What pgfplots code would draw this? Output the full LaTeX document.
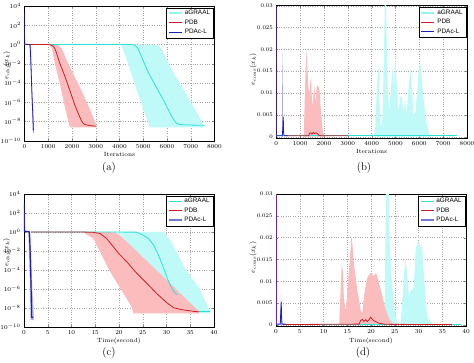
\documentclass[border=0pt]{standalone}
\usepackage{fontspec}
\setsansfont{Liberation Sans}
\usepackage{pgfplots}
\pgfplotsset{compat=1.18}
\definecolor{cyanL}{RGB}{45,225,215}
\definecolor{cyanB}{RGB}{192,250,248}
\definecolor{redL}{RGB}{205,30,40}
\definecolor{redB}{RGB}{250,188,188}
\definecolor{blueL}{RGB}{30,30,190}
\definecolor{blueB}{RGB}{175,175,240}
\definecolor{purpL}{RGB}{105,40,150}
\pgfplotsset{legend image code/.code={\draw[#1] (0pt,0pt) -- (13pt,0pt);}}
\pgfplotsset{
  panel/.style={
    scale only axis, anchor=south west,
    tick align=inside, major tick length=2pt,
    grid=major, major grid style={dotted, black!35, line width=0.35pt},
    tick label style={font=\fontsize{5.6}{6}\selectfont},
    xlabel style={font=\fontsize{6}{7}\selectfont, yshift=3pt},
    ylabel style={font=\fontsize{6.8}{7.5}\selectfont, anchor=center},
    /pgf/number format/1000 sep={},
    scaled ticks=false,
    axis line style={line width=0.4pt},
    legend style={at={(1,1)}, anchor=north east, xshift=-1pt, yshift=-1.5pt,
      font=\sffamily\fontsize{6.4}{7}\selectfont, inner xsep=1.2pt, inner ysep=0.8pt,
      row sep=-0.6pt, draw=black, line width=0.4pt},
    legend cell align=left,
  },
}
\begin{document}
\begin{tikzpicture}
\useasboundingbox (0,0) rectangle (474pt,362pt);

% ---------------- (a) ----------------
\begin{axis}[panel, at={(24.5pt,221.3pt)}, width=190pt, height=134.7pt,
  ymode=log, ymin=1e-10, ymax=1e4, ytick={1e-10,1e-8,1e-6,1e-4,1e-2,1,1e2,1e4},
  xmin=0, xmax=8000, xtick={0,1000,...,8000}, xlabel={Iterations},
  ylabel={$e_{\mathrm{obj}}(x_k)$}, ylabel style={at={(axis description cs:-0.093,0.56)}}]
\addplot[fill=cyanB, draw=none, forget plot] coordinates {
(4080,1) (5500,0.95) (5690,0.63) (5800,0.25) (6250,1.5e-3) (6810,7.9e-6) (7200,1.5e-7) (7580,3.2e-9)
(7580,2.5e-9) (5270,2.5e-9) (4685,3.7e-5) (4300,3e-2) (4080,0.85)};
\addplot[fill=redB, draw=none, forget plot] coordinates {
(1050,1) (1300,1) (1450,0.8) (1560,0.38) (1910,4.6e-3) (2330,3.7e-5) (2750,2e-7) (3030,4e-9)
(3030,2.5e-9) (1910,2.5e-9) (1700,3.2e-7) (1490,8.3e-5) (1280,1.05e-2) (1150,0.4) (1050,0.9)};
\addplot[fill=blueB, draw=none, forget plot] coordinates {
(215,1) (265,1) (330,1e-5) (410,6e-10) (350,6e-10) (300,1e-5)};
\addplot[cyanL, line width=0.8pt, forget plot] coordinates {
(0,1) (4400,1) (4570,0.95) (4680,0.7) (4780,0.38) (4880,0.1) (4990,2.3e-2) (5200,1.4e-3)
(5550,3.7e-5) (5900,1e-6) (6180,4.1e-8) (6290,1.5e-8) (6390,7e-9) (6500,5e-9) (6600,4.7e-9)
(7000,4.2e-9) (7580,4e-9)};
\addplot[redL, line width=0.8pt, forget plot] coordinates {
(0,1) (1000,0.98) (1100,0.9) (1200,0.7) (1280,0.38) (1350,0.12) (1490,1.05e-2) (1700,5e-4)
(1910,1.66e-5) (2120,5e-7) (2330,2.75e-8) (2400,1.2e-8) (2470,6.5e-9) (2540,4.8e-9)
(2610,4.4e-9) (2800,3.6e-9) (3000,3.2e-9)};
\addplot[blueL, line width=0.8pt, forget plot] coordinates {
(0,2e3) (5,1.1) (230,0.95) (250,0.2) (280,2e-3) (310,1e-5) (345,1e-7) (375,1.2e-9)};
\addlegendimage{line width=2pt, cyanB!70!cyanL}\addlegendentry{aGRAAL}
\addlegendimage{line width=0.8pt, redL}\addlegendentry{PDB}
\addlegendimage{line width=0.8pt, blueL}\addlegendentry{PDAc-L}
\end{axis}
\node[font=\fontsize{11}{13}\selectfont] at (109pt,194pt) {(a)};

% ---------------- (b) ----------------
\begin{axis}[panel, at={(276.3pt,224pt)}, width=190.7pt, height=132.3pt,
  ymin=-0.0003, ymax=0.03, ytick={0,0.005,0.01,0.015,0.02,0.025,0.03},
  yticklabels={0,0.005,0.01,0.015,0.02,0.025,0.03},
  xmin=0, xmax=8000, xtick={0,1000,...,8000}, xlabel={Iterations},
  ylabel={$e_{\mathrm{cons}}(x_k)$}, ylabel style={at={(axis description cs:-0.122,0.52)}}]
\addplot[fill=cyanB, draw=none, forget plot] coordinates {
(4080,0) (4150,0.002) (4230,0.012) (4290,0.0168) (4330,0.008) (4380,0.002) (4450,0.004)
(4520,0.02) (4560,0.034) (4600,0.034) (4640,0.02) (4680,0.01) (4750,0.006) (4820,0.012)
(4880,0.016) (4930,0.011) (4990,0.0187) (5050,0.012) (5120,0.006) (5200,0.009) (5270,0.0092)
(5330,0.005) (5400,0.009) (5460,0.005) (5530,0.01) (5620,0.0157) (5700,0.01) (5760,0.005)
(5850,0.006) (5950,0.014) (6040,0.0172) (6150,0.01) (6250,0.005) (6350,0.002) (6460,0.0003)
(6500,0)};
\addplot[fill=redB, draw=none, forget plot] coordinates {
(1140,0) (1162,0.002) (1210,0.012) (1260,0.0199) (1300,0.016) (1350,0.011) (1385,0.0099)
(1420,0.012) (1456,0.0137) (1490,0.009) (1525,0.0069) (1560,0.01) (1595,0.0118) (1620,0.009)
(1650,0.008) (1690,0.011) (1720,0.0118) (1760,0.0112) (1790,0.0116) (1833,0.0092)
(1870,0.006) (1904,0.0038) (1940,0.002) (1973,0.0008) (2040,0.0002) (2060,0)};
\addplot[fill=blueB, draw=none, forget plot] coordinates {
(235,0) (258,0.0191) (268,0.0191) (285,0)};
\addplot[cyanL, line width=0.8pt, forget plot] coordinates {(0,0.0002) (7600,0.0002)};
\addplot[redL, line width=0.8pt, forget plot] coordinates {
(400,0.0002) (1350,0.0002) (1400,0.0008) (1450,0.0009) (1500,0.0006) (1550,0.001)
(1600,0.0007) (1650,0.0009) (1700,0.0008) (1800,0.0003) (1900,0.0002) (3000,0.0002)};
\addplot[blueL, line width=0.8pt, forget plot] coordinates {
(10,0.0002) (250,0.0002) (275,0.002) (292,0.0046) (305,0.001) (325,0.0002) (500,0.0002)};
\addplot[purpL, line width=1pt, forget plot] coordinates {(0,0) (0,0.03)};
\addlegendimage{line width=2pt, cyanB!70!cyanL}\addlegendentry{aGRAAL}
\addlegendimage{line width=0.8pt, redL}\addlegendentry{PDB}
\addlegendimage{line width=0.8pt, blueL}\addlegendentry{PDAc-L}
\end{axis}
\node[font=\fontsize{11}{13}\selectfont] at (364pt,194pt) {(b)};

% ---------------- (c) ----------------
\begin{axis}[panel, at={(24pt,35.3pt)}, width=190pt, height=132.7pt,
  ymode=log, ymin=1e-10, ymax=1e4, ytick={1e-10,1e-8,1e-6,1e-4,1e-2,1,1e2,1e4},
  xmin=0, xmax=40, xtick={0,5,...,40}, xlabel={Time(second)},
  ylabel={$e_{\mathrm{obj}}(x_k)$}, ylabel style={at={(axis description cs:-0.091,0.56)}}]
\addplot[fill=cyanB, draw=none, forget plot] coordinates {
(17,1) (29.4,1) (31,0.1) (34,1.1e-4) (37,1e-6) (39.2,3.5e-9) (39.2,2.5e-9) (35,2.5e-9)
(30,1e-7) (25,1e-3) (20,0.8)};
\addplot[fill=redB, draw=none, forget plot] coordinates {
(12,1) (18,0.97) (19.5,0.7) (20.2,0.45) (23.5,1.2e-2) (27,2.4e-4) (31,2.8e-6) (34,1e-7)
(36.8,4e-9) (36.8,2.5e-9) (23,2.5e-9) (22.7,1.2e-8) (18.1,6.8e-5) (14.6,0.2) (12.5,0.9)};
\addplot[fill=blueB, draw=none, forget plot] coordinates {
(0.9,1.3) (1.3,1.3) (1.75,1e-6) (2.1,5e-10) (1.4,5e-10) (1.3,1e-6)};
\addplot[cyanL, line width=0.8pt, forget plot, unbounded coords=jump] coordinates {
(1.5,1) (23.7,0.95) (25.1,0.45) (26.2,0.2) (27.3,4e-2) (28.3,3.7e-3) (29.4,1.5e-4)
(30.4,6.3e-6) (31.5,5.5e-7) (32.3,2.3e-7) (33,nan) (36.6,4e-9) (39.2,4e-9)};
\addplot[redL, line width=0.8pt, forget plot] coordinates {
(1.5,1) (12,0.98) (14.6,0.9) (16.0,0.68) (17.4,0.2) (18.8,2.7e-2) (19.9,5.5e-3) (21.6,7.4e-4)
(23.7,4.5e-5) (25.8,4.1e-6) (28.0,2.9e-7) (30.1,3.3e-8) (31.5,1e-8) (32.9,6.8e-9)
(34.3,5.2e-9) (36.4,3.8e-9) (36.8,3.8e-9)};
\addplot[blueL, line width=1.2pt, forget plot] coordinates {
(0,1e3) (0.1,1.2) (1.1,1.0) (1.2,0.2) (1.35,1e-3) (1.5,1e-6) (1.6,1e-9) (1.9,1e-9)};
\addlegendimage{line width=0.8pt, cyanL}\addlegendentry{aGRAAL}
\addlegendimage{line width=0.8pt, redL}\addlegendentry{PDB}
\addlegendimage{line width=1.6pt, blueB!60!blueL}\addlegendentry{PDAc-L}
\end{axis}
\node[font=\fontsize{11}{13}\selectfont] at (109pt,9.3pt) {(c)};

% ---------------- (d) ----------------
\begin{axis}[panel, at={(276pt,35.7pt)}, width=190pt, height=132.3pt,
  ymin=-0.0003, ymax=0.03, ytick={0,0.005,0.01,0.015,0.02,0.025,0.03},
  yticklabels={0,0.005,0.01,0.015,0.02,0.025,0.03},
  xmin=0, xmax=40, xtick={0,5,...,40}, xlabel={Time(second)},
  ylabel={$e_{\mathrm{cons}}(x_k)$}, ylabel style={at={(axis description cs:-0.121,0.52)}}]
\addplot[fill=cyanB, draw=none, forget plot] coordinates {
(22.8,0) (23.0,0.015) (23.2,0.034) (23.7,0.034) (23.9,0.02) (24.3,0.011) (24.8,0.005)
(25.5,0.0005) (26.2,0) (26.5,0.004) (27.0,0.012) (27.3,0.015) (27.6,0.012) (28.0,0.0065)
(28.5,0.008) (29.0,0.0085) (29.4,0.0173) (29.9,0.0191) (30.4,0.018) (30.7,0.0187)
(31.1,0.012) (31.5,0.0065) (31.8,0.0019) (32.5,0.0008) (33.6,0)};
\addplot[fill=redB, draw=none, forget plot] coordinates {
(13.3,0) (13.6,0.008) (13.85,0.0142) (14.1,0.012) (14.3,0.0058) (14.7,0.0031) (15.2,0.0104)
(15.6,0.016) (15.9,0.0205) (16.2,0.017) (16.4,0.0142) (17.1,0.0081) (17.8,0.0035)
(18.2,0.0027) (18.5,0.0065) (19.2,0.0108) (19.9,0.0119) (20.3,0.0115) (20.6,0.0112)
(21.1,0.0119) (21.7,0.0096) (22.4,0.0065) (23.1,0.0035) (23.8,0.0015) (24.5,0.0004) (25.2,0)};
\addplot[fill=blueB, draw=none, forget plot] coordinates {(0.85,0) (1.05,0.0073) (1.3,0)};
\addplot[cyanL, line width=0.8pt, forget plot] coordinates {(1.5,0.0001) (39,0.0001)};
\addplot[redL, line width=0.8pt, forget plot] coordinates {
(1.5,0.0001) (17.5,0.0002) (17.8,0.001) (18.2,0.0013) (18.5,0.0008) (18.9,0.0012)
(19.2,0.0008) (19.6,0.0012) (19.9,0.0018) (20.3,0.0013) (20.6,0.001) (21.7,0.0004)
(23.1,0.00015) (37,0.0001)};
\addplot[blueL, line width=0.8pt, forget plot] coordinates {
(0,0.0002) (0.9,0.0002) (1.0,0.003) (1.1,0.0053) (1.2,0.001) (1.3,0.0002) (2,0.0002)};
\addplot[purpL, line width=1pt, forget plot] coordinates {(0,0) (0,0.03)};
\addlegendimage{line width=0.8pt, cyanL}\addlegendentry{aGRAAL}
\addlegendimage{line width=0.8pt, redL}\addlegendentry{PDB}
\addlegendimage{line width=1.6pt, blueB!60!blueL}\addlegendentry{PDAc-L}
\end{axis}
\node[font=\fontsize{11}{13}\selectfont] at (363pt,9.3pt) {(d)};
\end{tikzpicture}
\end{document}
